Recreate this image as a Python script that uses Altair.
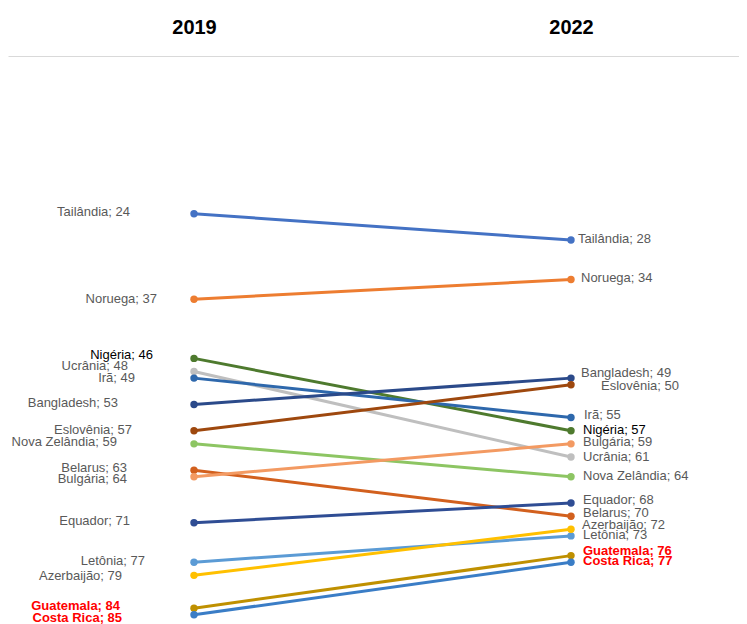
import altair as alt
import pandas as pd

# ---- data ----
countries = ["Tailândia", "Noruega", "Nigéria", "Ucrânia", "Irã", "Bangladesh",
             "Eslovênia", "Nova Zelândia", "Belarus", "Bulgária", "Equador",
             "Letônia", "Azerbaijão", "Guatemala", "Costa Rica"]
rank_2019 = [24, 37, 46, 48, 49, 53, 57, 59, 63, 64, 71, 77, 79, 84, 85]
rank_2022 = [28, 34, 57, 61, 55, 49, 50, 64, 70, 59, 68, 73, 72, 76, 77]
years = ["2019", "2022"]

# ---- styles ----
line_colors = ["#4472C4", "#ED7D31", "#4E7A2E", "#BFBFBF", "#2E68AC", "#2B4A8A",
               "#9E480E", "#8DC563", "#D2601E", "#F39A62", "#2F4D94",
               "#5B9BD5", "#FFC000", "#BF9000", "#3A7DC6"]
label_colors = ["#595959"] * 15
label_colors[2] = "#000000"
label_colors[13] = "#FF0000"
label_colors[14] = "#FF0000"
label_bold = [False] * 15
label_bold[13] = True
label_bold[14] = True

# label nudges in pixels (left labels are right-aligned, right labels left-aligned)
left_dx = [-64, -37, -41, -66, -59, -76, -62, -77, -67, -67, -64, -49, -72, -74, -72]
left_dy = [-2, 0, -3.5, -5.5, -0.5, -1.5, -1, -2, -2.5, 2, -1.5, -0.7, 0.4, -1.8, 3]
right_dx = [7, 10, 12, 12, 13, 10, 30, 12, 12, 12, 12, 12, 11, 12, 12]
right_dy = [-1, -2, -1, -0.5, -3, -5, 1, -1, -3, -2.3, -2.6, -1, -4.5, -4.8, -0.7]

PX_X = 377.0     # pixels per unit between the two year columns
PX_Y = 6.574     # pixels per rank
W = 731
D0 = -(194 - 8) / PX_X
D1 = D0 + W / PX_X
YMAX = 86
H = YMAX * PX_Y

rows = []
for i, c in enumerate(countries):
    rows.append({"country": c, "pos": 0, "rank": rank_2019[i], "order": i})
    rows.append({"country": c, "pos": 1, "rank": rank_2022[i], "order": i})
df = pd.DataFrame(rows)

lab = []
for i, c in enumerate(countries):
    lab.append({"side": "L", "text": f"{c}; {rank_2019[i]}",
                "lx": 0 + left_dx[i] / PX_X, "ly": rank_2019[i] + left_dy[i] / PX_Y,
                "tcolor": label_colors[i], "bold": label_bold[i]})
    lab.append({"side": "R", "text": f"{c}; {rank_2022[i]}",
                "lx": 1 + right_dx[i] / PX_X, "ly": rank_2022[i] + right_dy[i] / PX_Y,
                "tcolor": label_colors[i], "bold": label_bold[i]})
dl = pd.DataFrame(lab)

xs = alt.Scale(domain=[D0, D1], nice=False, zero=False)
ys = alt.Scale(domain=[0, YMAX], reverse=True, nice=False, zero=False)
cs = alt.Scale(domain=countries, range=line_colors)

xaxis = alt.Axis(orient="top", values=[0, 1], labelExpr="datum.value == 0 ? '2019' : '2022'",
                 labelFontSize=20, labelFontWeight="bold", labelColor="#000000",
                 labelFont="Liberation Sans", ticks=False, grid=False, title=None,
                 domainColor="#D9D9D9", domainWidth=1, labelPadding=18)

base = alt.Chart(df)
lines = base.mark_line(strokeWidth=3).encode(
    x=alt.X("pos:Q", scale=xs, axis=xaxis),
    y=alt.Y("rank:Q", scale=ys, axis=None),
    color=alt.Color("country:N", scale=cs, legend=None),
    detail="country:N",
    order="pos:Q",
)
points = base.mark_circle(size=55, opacity=1).encode(
    x=alt.X("pos:Q", scale=xs),
    y=alt.Y("rank:Q", scale=ys),
    color=alt.Color("country:N", scale=cs, legend=None),
)

def text_layer(side, bold):
    return alt.Chart(dl).transform_filter(
        (alt.datum.side == side) & (alt.datum.bold == bold)
    ).mark_text(
        align="right" if side == "L" else "left", baseline="middle",
        font="Liberation Sans", fontSize=13,
        fontWeight="bold" if bold else "normal",
    ).encode(
        x=alt.X("lx:Q", scale=xs),
        y=alt.Y("ly:Q", scale=ys),
        text="text:N",
        color=alt.Color("tcolor:N", scale=None),
    )

chart = alt.layer(
    lines, points,
    text_layer("L", False), text_layer("L", True),
    text_layer("R", False), text_layer("R", True),
).properties(
    width=W, height=H,
    padding={"left": 0, "top": 48, "right": 0, "bottom": 6},
    autosize=alt.AutoSizeParams(type="none"),
).configure_view(stroke=None)

chart.save("out.html", embed_options={"renderer": "svg", "actions": False})
